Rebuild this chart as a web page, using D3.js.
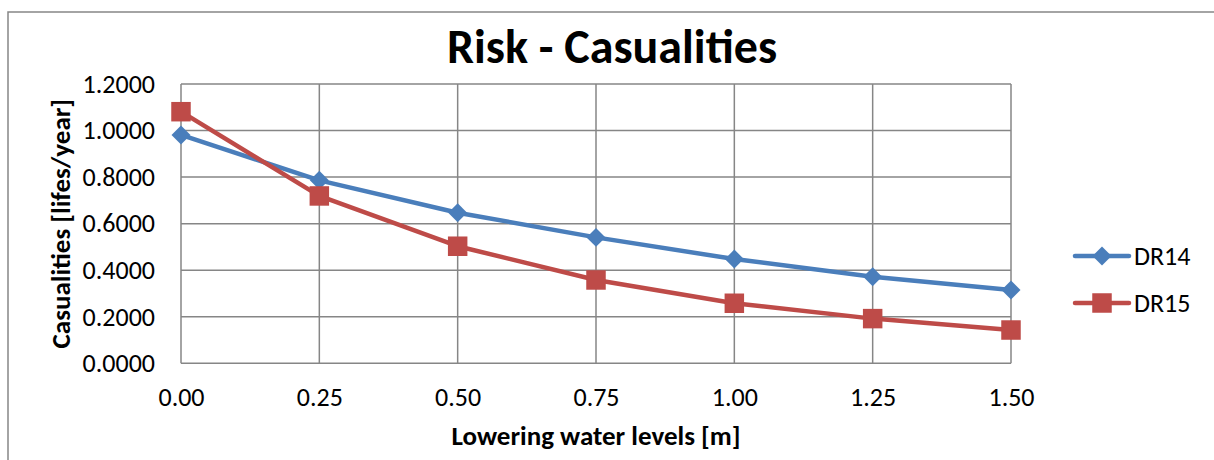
<!DOCTYPE html>
<html><head><meta charset="utf-8">
<script src="https://cdn.jsdelivr.net/npm/d3@7"></script>
<style>body{margin:0;background:#fff}svg{display:block}text{font-family:Carlito,Calibri,Lato,"Open Sans",sans-serif}</style>
</head><body><svg id="c" width="1214" height="460"></svg>
<script>
const xValues = [0, 0.25, 0.5, 0.75, 1.0, 1.25, 1.5];
const dr14 = [0.981, 0.786, 0.647, 0.541, 0.448, 0.372, 0.315];
const dr15 = [1.081, 0.719, 0.503, 0.358, 0.258, 0.192, 0.143];
const yTicks = [0, 0.2, 0.4, 0.6, 0.8, 1.0, 1.2];
const seriesNames = ["DR14", "DR15"];
const colors = ["#4A7EBB", "#BE4B48"];

const FONT = "Carlito,Calibri,Lato,sans-serif";
const svg = d3.select("#c");
svg.append("rect").attr("x",8).attr("y",12).attr("width",1230).attr("height",470)
  .attr("fill","none").attr("stroke","#868686").attr("stroke-width",1.5);

const L=181, R=1011, T=84, B=363.3;
const x = d3.scaleLinear().domain([0,1.5]).range([L,R]);
const y = d3.scaleLinear().domain([0,1.2]).range([B,T]);

// gridlines
const g = svg.append("g");
g.selectAll(".hg").data(yTicks).join("line")
  .attr("x1",L).attr("x2",R).attr("y1",d=>y(d)).attr("y2",d=>y(d))
  .attr("stroke","#868686").attr("stroke-width",1.5);
g.selectAll(".vg").data(xValues).join("line")
  .attr("y1",T).attr("y2",B).attr("x1",d=>x(d)).attr("x2",d=>x(d))
  .attr("stroke","#868686").attr("stroke-width",1.5);

// axes labels
const yAxis = d3.axisLeft(y).tickValues(yTicks).tickFormat(d3.format(".4f")).tickSize(0).tickPadding(26);
const ya = svg.append("g").attr("transform",`translate(${L},0)`).call(yAxis);
ya.select(".domain").remove();
ya.selectAll("text").attr("font-size",26).attr("fill","#000").attr("font-family",FONT);

const xAxis = d3.axisBottom(x).tickValues(xValues).tickFormat(d3.format(".2f")).tickSize(0).tickPadding(24);
const xa = svg.append("g").attr("transform",`translate(0,${B})`).call(xAxis);
xa.select(".domain").remove();
xa.selectAll("text").attr("font-size",26).attr("fill","#000").attr("font-family",FONT);

// series
const data = [dr14, dr15];
const line = d3.line().x((d,i)=>x(xValues[i])).y(d=>y(d));
const diamondType = { draw(ctx, size){ const r = Math.sqrt(size/2); ctx.moveTo(0,-r); ctx.lineTo(r,0); ctx.lineTo(0,r); ctx.lineTo(-r,0); ctx.closePath(); } };
const diamond = d3.symbol().type(diamondType).size(180);
const square = d3.symbol().type(d3.symbolSquare).size(380);
data.forEach((s,k)=>{
  svg.append("path").attr("d",line(s)).attr("fill","none").attr("stroke",colors[k]).attr("stroke-width",4.5).attr("stroke-linejoin","round");
  svg.append("g").selectAll("path").data(s).join("path")
    .attr("transform",(d,i)=>`translate(${x(xValues[i])},${y(d)})`)
    .attr("d", k===0 ? diamond() : square())
    .attr("fill",colors[k]);
});

// legend
seriesNames.forEach((n,k)=>{
  const ly = 256 + k*47;
  svg.append("line").attr("x1",1075).attr("x2",1129).attr("y1",ly).attr("y2",ly)
    .attr("stroke",colors[k]).attr("stroke-width",4.5).attr("stroke-linecap","round");
  svg.append("path").attr("transform",`translate(1102,${ly})`).attr("d",k===0?diamond():square()).attr("fill",colors[k]);
  svg.append("text").attr("x",1134).attr("y",ly+9).attr("font-size",26).text(n);
});

// titles
svg.append("text").attr("x",612).attr("y",63).attr("text-anchor","middle")
  .attr("font-size",48).attr("font-weight","bold").text("Risk - Casualities");
svg.append("text").attr("x",596).attr("y",445).attr("text-anchor","middle")
  .attr("font-size",27).attr("font-weight","bold").text("Lowering water levels [m]");
svg.append("text").attr("transform",`translate(70,${(T+B)/2}) rotate(-90)`).attr("text-anchor","middle")
  .attr("font-size",27).attr("font-weight","bold").text("Casualities [lifes/year]");
</script></body></html>
